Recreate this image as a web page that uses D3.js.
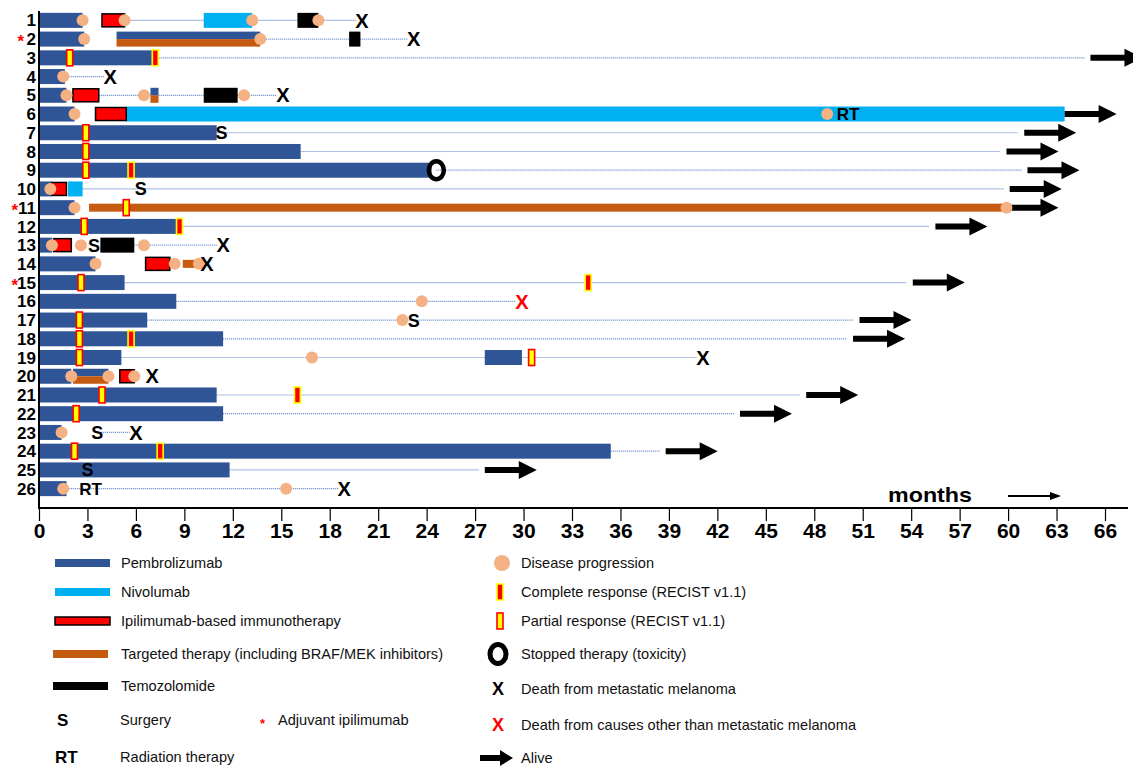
<!DOCTYPE html>
<html lang="en">
<head>
    <meta charset="UTF-8">
    <title>Swimmer plot</title>
    <script src="https://d3js.org/d3.v7.min.js"></script>
    <style>
        body { margin: 0; background: #fff; }
        text { font-family: "Liberation Sans", Arial, sans-serif; }
    </style>
</head>
<body>
<div id="chart"></div>
<script>
// ---- data (months) ----
const patients = ["1","2","3","4","5","6","7","8","9","10","11","12","13",
                  "14","15","16","17","18","19","20","21","22","23","24","25","26"];
const adjuvant = ["2", "11", "15"];
const xTicks = [0,3,6,9,12,15,18,21,24,27,30,33,36,39,42,45,48,51,54,57,60,63,66];

// [patient, start, end]
const pembrolizumab = [[1,0,2.7],[2,0,2.8],[3,0,7.0],[4,0,1.6],[5,0,1.7],[6,0,2.2],[7,0,11.0],
    [8,0,16.2],[9,0,24.3],[10,0,0.8],[11,0,2.2],[12,0,8.5],[13,0,0.8],[14,0,3.5],[15,0,5.3],
    [16,0,8.5],[17,0,6.7],[18,0,11.4],[19,0,5.1],[19,27.6,29.9],[20,0,2.0],[21,0,11.0],
    [22,0,11.4],[23,0,1.4],[24,0,35.4],[25,0,11.8],[26,0,1.7]];
const nivolumab = [[1,10.2,13.2],[6,5.4,63.5],[10,1.8,2.7]];
const ipilimumab = [[1,3.9,5.3],[5,2.1,3.7],[6,3.5,5.4],[10,0.8,1.7],[13,0.9,2.0],[14,6.6,8.1],[20,5.0,5.9]];
const targeted = [[11,3.1,59.9],[14,8.9,9.8]];
const pembroTargeted = [[2,4.8,13.7],[5,6.9,7.4],[20,2.1,4.3]];
const temozolomide = [[1,16.0,17.3],[2,19.2,19.9],[5,10.2,12.3],[13,3.8,5.9]];
const followUp = [[1,5.3,20.0],[2,13.7,23.2],[3,7.2,65.1],[4,1.5,4.4],[5,3.7,15.1],[7,11.0,61.0],
    [8,16.2,59.9],[9,24.6,61.2],[10,2.7,60.1],[12,8.7,55.5],[13,5.9,11.4],[15,5.3,54.1],
    [16,8.5,29.9],[17,6.7,50.8],[18,11.4,50.4],[19,5.1,41.1],[21,11.0,47.5],[22,11.4,43.4],
    [23,3.6,6.0],[24,35.4,38.8],[25,11.8,27.6],[26,1.5,18.9]];

// [patient, month]
const progression = [[1,2.7],[1,5.3],[1,13.2],[1,17.3],[2,2.8],[2,13.7],[4,1.5],[5,1.7],[5,6.5],
    [5,12.7],[6,2.2],[6,48.8],[10,0.7],[11,2.2],[11,59.9],[13,0.8],[13,2.6],[13,6.5],[14,3.5],
    [14,8.4],[14,9.9],[16,23.7],[17,22.5],[19,16.9],[20,2.0],[20,4.3],[20,5.9],[23,1.4],[26,1.5],[26,15.3]];
const complete = [[3,7.2],[9,5.7],[12,8.7],[15,34.0],[18,5.7],[21,16.0],[24,7.5]];
const partial = [[3,1.9],[7,2.9],[8,2.9],[9,2.9],[11,5.4],[12,2.8],[15,2.6],[17,2.5],[18,2.5],
    [19,2.5],[19,30.5],[21,3.9],[22,2.3],[24,2.2]];
const stopped = [[9,24.6]];
const surgery = [[7,11.3],[10,6.3],[13,3.4],[17,23.2],[23,3.6],[25,3.0]];
const radiation = [[6,50.1],[26,3.2]];
const deathMelanoma = [[1,20.0],[2,23.2],[4,4.4],[5,15.1],[13,11.4],[14,10.4],[19,41.1],[20,7.0],[23,6.0],[26,18.9]];
const deathOther = [[16,29.9]];
const alive = [[3,65.1],[6,63.5],[7,61.0],[8,59.9],[9,61.2],[10,60.1],[11,59.9],[12,55.5],[15,54.1],
    [17,50.8],[18,50.4],[21,47.5],[22,43.4],[24,38.8],[25,27.6]];

const col = {
    pembro: "#2f5597", nivo: "#00b0f0", ipi: "#ff0000", targ: "#c55a11",
    temo: "#000000", prog: "#f4b183", dots: "#4472c4"
};

const width = 1133, height = 766;
const svg = d3.select("#chart").append("svg")
    .attr("width", width).attr("height", height);

const x = d3.scaleLinear().domain([0, 66]).range([39, 1105]);
const y = d3.scaleBand().domain(patients).range([11, 498]);
const cy = p => y(String(p)) + y.bandwidth() / 2;
const barH = 15;

// follow-up dotted lines
svg.append("g").selectAll("line").data(followUp).join("line")
    .attr("x1", d => x(d[1])).attr("x2", d => x(d[2]) - 6)
    .attr("y1", d => cy(d[0])).attr("y2", d => cy(d[0]))
    .attr("stroke", col.dots).attr("stroke-width", 1.2)
    .attr("stroke-dasharray", "1,1").attr("opacity", 0.85);

function bars(data, fill, h, stroke) {
    svg.append("g").selectAll("rect").data(data).join("rect")
        .attr("x", d => x(d[1])).attr("width", d => x(d[2]) - x(d[1]))
        .attr("y", d => cy(d[0]) - h / 2).attr("height", h)
        .attr("fill", fill)
        .attr("stroke", stroke || "none").attr("stroke-width", stroke ? 1.5 : 0);
}
bars(pembrolizumab, col.pembro, barH);
bars(nivolumab, col.nivo, barH);
bars(temozolomide, col.temo, barH);
bars(targeted, col.targ, 8);
// stacked pembrolizumab + targeted
const st = svg.append("g").selectAll("g").data(pembroTargeted).join("g");
st.append("rect").attr("x", d => x(d[1])).attr("width", d => x(d[2]) - x(d[1]))
    .attr("y", d => cy(d[0]) - barH / 2).attr("height", barH / 2).attr("fill", col.pembro);
st.append("rect").attr("x", d => x(d[1])).attr("width", d => x(d[2]) - x(d[1]))
    .attr("y", d => cy(d[0])).attr("height", barH / 2).attr("fill", col.targ);
bars(ipilimumab, col.ipi, 13, "#000");

// alive arrows
const arrowPath = "M0,-3 L34,-3 L34,-9 L52,0 L34,9 L34,3 L0,3 Z";
svg.append("g").selectAll("path").data(alive).join("path")
    .attr("transform", d => `translate(${x(d[1])},${cy(d[0])})`)
    .attr("d", arrowPath).attr("fill", "#000");

// progression
svg.append("g").selectAll("circle").data(progression).join("circle")
    .attr("cx", d => x(d[1])).attr("cy", d => cy(d[0])).attr("r", 6)
    .attr("fill", col.prog);

// responses
function resp(data, fill, stroke) {
    svg.append("g").selectAll("rect").data(data).join("rect")
        .attr("x", d => x(d[1]) - 3).attr("y", d => cy(d[0]) - 8)
        .attr("width", 6).attr("height", 16)
        .attr("fill", fill).attr("stroke", stroke).attr("stroke-width", 1.6);
}
resp(complete, "#ff0000", "#ffff00");
resp(partial, "#ffff00", "#ff0000");

// stopped therapy
svg.append("g").selectAll("ellipse").data(stopped).join("ellipse")
    .attr("cx", d => x(d[1])).attr("cy", d => cy(d[0]))
    .attr("rx", 7.5).attr("ry", 9).attr("fill", "none")
    .attr("stroke", "#000").attr("stroke-width", 4.5);

function labels(data, txt, size, fill) {
    svg.append("g").selectAll("text").data(data).join("text")
        .attr("x", d => x(d[1])).attr("y", d => cy(d[0]))
        .attr("dy", "0.36em").attr("text-anchor", "middle")
        .attr("font-size", size).attr("font-weight", "bold").attr("fill", fill)
        .text(txt);
}
labels(surgery, "S", 18, "#000");
labels(radiation, "RT", 17, "#000");
labels(deathMelanoma, "X", 20, "#000");
labels(deathOther, "X", 20, "#ff0000");

// row labels
svg.append("g").selectAll("text").data(patients).join("text")
    .attr("x", 36).attr("y", d => cy(d)).attr("dy", "0.36em")
    .attr("text-anchor", "end").attr("font-size", 17).attr("font-weight", "bold")
    .text(d => d);
svg.append("g").selectAll("text").data(adjuvant).join("text")
    .attr("x", d => d.length > 1 ? 18 : 24).attr("y", d => cy(d) + 2)
    .attr("dy", "0.36em").attr("text-anchor", "end")
    .attr("font-size", 17).attr("font-weight", "bold").attr("fill", "#ff0000")
    .text("*");

// axes
svg.append("line").attr("x1", 39).attr("x2", 39).attr("y1", 11).attr("y2", 508)
    .attr("stroke", "#000").attr("stroke-width", 2);
const ax = svg.append("g").attr("transform", "translate(0,508)")
    .call(d3.axisBottom(x).tickValues(xTicks).tickSize(13).tickSizeOuter(0));
ax.select(".domain").remove();
ax.selectAll(".tick line").attr("stroke", "#000").attr("stroke-width", 1.2);
ax.selectAll(".tick text").attr("font-size", 21).attr("font-weight", "bold")
    .attr("font-family", "Liberation Sans, Arial, sans-serif").attr("fill", "#000").attr("y", 15);
svg.append("line").attr("x1", 38).attr("x2", 1128).attr("y1", 508).attr("y2", 508)
    .attr("stroke", "#000").attr("stroke-width", 2);

svg.append("text").attr("x", 888).attr("y", 502).attr("font-size", 21)
    .attr("font-weight", "bold").attr("textLength", 84).attr("lengthAdjust", "spacingAndGlyphs")
    .text("months");
svg.append("line").attr("x1", 1008).attr("x2", 1052).attr("y1", 496).attr("y2", 496)
    .attr("stroke", "#000").attr("stroke-width", 2);
svg.append("path").attr("d", "M1050,492 L1061,496 L1050,500 Z").attr("fill", "#000");

// ---- legend ----
const lg = svg.append("g");
const fs = 14.6;
const leftItems = [
    {label: "Pembrolizumab", y: 563, fill: col.pembro, x0: 55},
    {label: "Nivolumab", y: 592, fill: col.nivo, x0: 55},
    {label: "Ipilimumab-based immunotherapy", y: 621, fill: col.ipi, x0: 55, stroke: "#000"},
    {label: "Targeted therapy (including BRAF/MEK inhibitors)", y: 654, fill: col.targ, x0: 53},
    {label: "Temozolomide", y: 686, fill: col.temo, x0: 53}
];
leftItems.forEach(it => {
    lg.append("rect").attr("x", it.x0).attr("y", it.y - 4).attr("width", 55).attr("height", 8)
        .attr("fill", it.fill).attr("stroke", it.stroke || "none").attr("stroke-width", 1.5);
    lg.append("text").attr("x", 121).attr("y", it.y).attr("dy", "0.35em")
        .attr("font-size", fs).attr("fill", "#111").text(it.label);
});
lg.append("text").attr("x", 57).attr("y", 720).attr("dy", "0.36em").attr("font-size", 17)
    .attr("font-weight", "bold").text("S");
lg.append("text").attr("x", 120).attr("y", 720).attr("dy", "0.35em").attr("font-size", fs)
    .attr("fill", "#111").text("Surgery");
lg.append("text").attr("x", 260).attr("y", 723).attr("dy", "0.35em").attr("font-size", 13)
    .attr("fill", "#ff0000").attr("font-weight", "bold").text("*");
lg.append("text").attr("x", 278).attr("y", 720).attr("dy", "0.35em").attr("font-size", fs)
    .attr("fill", "#111").text("Adjuvant ipilimumab");
lg.append("text").attr("x", 55).attr("y", 757).attr("dy", "0.36em").attr("font-size", 17)
    .attr("font-weight", "bold").text("RT");
lg.append("text").attr("x", 120).attr("y", 757).attr("dy", "0.35em").attr("font-size", fs)
    .attr("fill", "#111").text("Radiation therapy");

const rightItems = [
    {label: "Disease progression", y: 563},
    {label: "Complete response (RECIST v1.1)", y: 592},
    {label: "Partial response (RECIST v1.1)", y: 621},
    {label: "Stopped therapy (toxicity)", y: 654},
    {label: "Death from metastatic melanoma", y: 689},
    {label: "Death from causes other than metastatic melanoma", y: 725},
    {label: "Alive", y: 758}
];
rightItems.forEach(it => {
    lg.append("text").attr("x", 521).attr("y", it.y).attr("dy", "0.35em")
        .attr("font-size", fs).attr("fill", "#111").text(it.label);
});
lg.append("circle").attr("cx", 502).attr("cy", 563).attr("r", 8).attr("fill", col.prog);
lg.append("rect").attr("x", 497).attr("y", 584).attr("width", 6).attr("height", 16)
    .attr("fill", "#ff0000").attr("stroke", "#ffff00").attr("stroke-width", 1.6);
lg.append("rect").attr("x", 497).attr("y", 613).attr("width", 6).attr("height", 16)
    .attr("fill", "#ffff00").attr("stroke", "#ff0000").attr("stroke-width", 1.6);
lg.append("ellipse").attr("cx", 498).attr("cy", 654).attr("rx", 8).attr("ry", 9.5)
    .attr("fill", "none").attr("stroke", "#000").attr("stroke-width", 5);
lg.append("text").attr("x", 498).attr("y", 689).attr("dy", "0.36em").attr("text-anchor", "middle")
    .attr("font-size", 18).attr("font-weight", "bold").text("X");
lg.append("text").attr("x", 498).attr("y", 725).attr("dy", "0.36em").attr("text-anchor", "middle")
    .attr("font-size", 18).attr("font-weight", "bold").attr("fill", "#ff0000").text("X");
lg.append("path").attr("transform", "translate(480,758)")
    .attr("d", "M0,-3 L20,-3 L20,-8 L33,0 L20,8 L20,3 L0,3 Z").attr("fill", "#000");
</script>
</body>
</html>
